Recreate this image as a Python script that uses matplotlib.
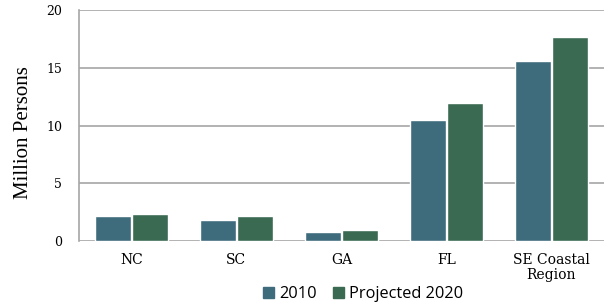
import matplotlib
matplotlib.use("Agg")
import matplotlib.pyplot as plt
import numpy as np
from matplotlib.patches import Patch

categories = ["NC", "SC", "GA", "FL", "SE Coastal\nRegion"]
values_2010 = [2.2, 1.85, 0.8, 10.5, 15.6]
values_2020 = [2.3, 2.15, 0.93, 11.95, 17.7]
series_names = ["2010", "Projected 2020"]
yticks = [0, 5, 10, 15, 20]

c2010 = "#3F6C7D"
c2020 = "#3A6A51"

fig = plt.figure(figsize=(6.07, 3.05), dpi=100)
ax = fig.add_axes([0.130, 0.210, 0.865, 0.757])

x = np.arange(len(categories))
w = 0.345
ax.bar(x - w / 2 - 0.005, values_2010, w, color=c2010, edgecolor="white", linewidth=1.0, zorder=3)
ax.bar(x + w / 2 + 0.005, values_2020, w, color=c2020, edgecolor="white", linewidth=1.0, zorder=3)

ax.set_xlim(-0.5, len(categories) - 0.5)
ax.set_ylim(0, 20)
ax.set_yticks(yticks)
ax.set_yticklabels([str(t) for t in yticks], family="DejaVu Serif", fontsize=9)
ax.set_xticks(x)
ax.set_xticklabels(categories, family="DejaVu Serif", fontsize=10, linespacing=1.05)
ax.tick_params(axis="both", length=0)
ax.tick_params(axis="x", pad=9)
ax.tick_params(axis="y", pad=12)
ax.grid(axis="y", color="#A6A6A6", linewidth=1.2, zorder=0)
for s in ["top", "right", "bottom"]:
    ax.spines[s].set_visible(False)
ax.spines["left"].set_color("#A6A6A6")
ax.spines["left"].set_linewidth(1.2)

ax.set_ylabel("Million Persons", family="Liberation Serif", fontsize=15)
ax.yaxis.set_label_coords(-0.088, 0.47)

handles = [Patch(color=c2010), Patch(color=c2020)]
fig.legend(handles, series_names, loc="lower center", bbox_to_anchor=(0.598, -0.04), ncol=2,
           frameon=False, prop={"family": "Open Sans", "size": 11.8}, handlelength=0.7,
           handleheight=0.7, handletextpad=0.3, columnspacing=1.0)

fig.savefig("out.png", dpi=100)
